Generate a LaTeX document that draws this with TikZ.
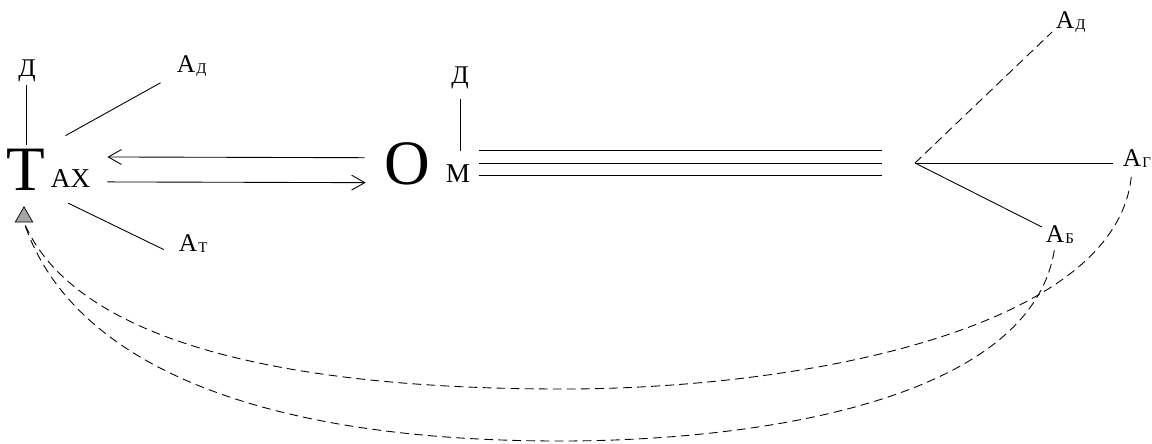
\documentclass[tikz,border=0pt]{standalone}
\usepackage{fontspec}
\setmainfont{Liberation Serif}
\usetikzlibrary{arrows.meta,shapes.geometric}
\newcommand{\lsub}[1]{\rlap{\smash{\kern0.6pt\raisebox{-1pt}{\fontsize{8.5}{9}\selectfont#1}}}}
\begin{document}
\begin{tikzpicture}[x=0.02cm,y=-0.02cm,
  line width=0.5pt,
  big/.style={font=\fontsize{36}{36}\selectfont,inner sep=2pt,anchor=base},
  mid/.style={font=\fontsize{15.5}{16}\selectfont,inner sep=2pt,anchor=base west},
  lab/.style={font=\fontsize{14.5}{15}\selectfont,inner sep=2pt,anchor=base},
  tri/.style={regular polygon,regular polygon sides=3,draw,fill=gray!70,
    inner sep=0pt,minimum size=11.5pt,line width=0.4pt},
  arr/.style={-{Straight Barb[length=7.5pt,width=8.5pt]}},
  dsh/.style={dash pattern=on 5pt off 3pt}]
\useasboundingbox (0,0) rectangle (1152,443);
% left group
\node[big] (T) at (26,190) {Т};
\node[mid] (AX) at (47,187) {АХ};
\node[lab] (d1) at (27,76) {Д};
\node[lab] (ad1) at (186,72) {А\lsub{Д}};
\node[lab] (at1) at (188,251) {А\lsub{Т}};
\node[tri] (tip) at (24,217) {};
% middle group
\node[big] (O) at (407,184) {О};
\node[mid] (M) at (442,182) {М};
\node[lab] (d2) at (460,83) {Д};
% right group
\coordinate (v) at (915,163);
\node[lab] (ad2) at (1065,28) {А\lsub{Д}};
\node[lab] (ag) at (1132,166) {А\lsub{Г}};
\node[lab] (ab) at (1055,242) {А\lsub{Б}};

\draw (T.north |- d1.south) -- (T.north);
\draw[shorten <=10.5pt,shorten >=8pt] (T.north east) -- (ad1.south west);
\draw[shorten <=12pt,shorten >=7pt] (T.south east) -- (at1.south west);
\draw[arr,shorten <=8.9pt,shorten >=7.5pt] ([yshift=3.2pt]O.west) -- ([yshift=12pt]AX.east);
\draw[arr,shorten <=7.5pt,shorten >=8.3pt] ([yshift=-2.2pt]AX.east) -- ([yshift=-11pt]O.west);
\draw[shorten <=3.5pt,shorten >=5pt] (d2.south) -- (d2.south |- M.north);

\coordinate (m) at (M.east |- v);
\foreach \dy in {7.3pt,0pt,-7.3pt}
  \draw[shorten <=2.5pt,shorten >=18.8pt] ([yshift=\dy]m) -- ([yshift=\dy]v);

\draw[dsh] (v) -- (ad2);
\draw[shorten >=3.5pt] (v) -- (v -| ag.west);
\draw (v) -- (ab);

% feedback curves
\draw[dsh,shorten <=4pt] (ag.south) .. controls (1115,330) and (800,389) .. (563,389)
  .. controls (250,389) and (70,330) .. (tip.south);
\draw[dsh,shorten <=2.5pt] (ab.south) .. controls (1030,400) and (760,441) .. (560,441)
  .. controls (250,441) and (70,360) .. (tip.south);
\end{tikzpicture}
\end{document}
